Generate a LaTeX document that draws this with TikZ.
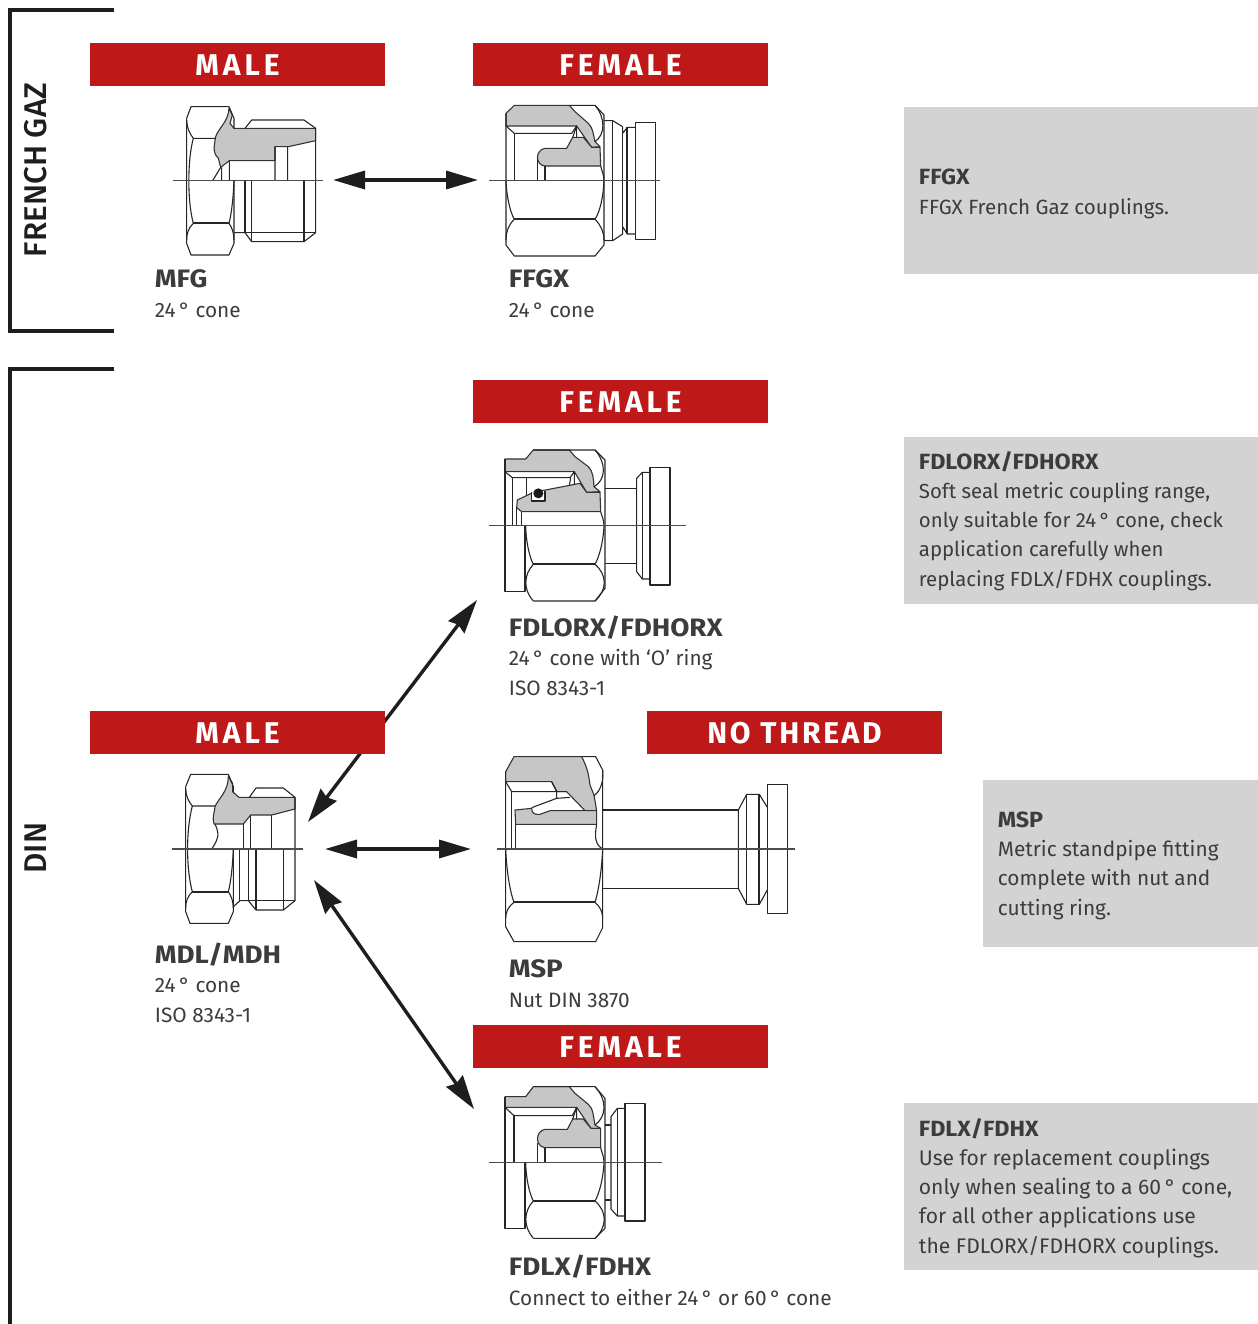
\documentclass[tikz,border=0pt]{standalone}
\usepackage{fontspec}
\usetikzlibrary{arrows.meta}
\setmainfont{Fira Sans}
\newfontfamily\barfont[LetterSpace=13]{Fira Sans}
\newfontfamily\wideA[FakeStretch=1.06]{Fira Sans}
\newfontfamily\wideB[FakeStretch=1.1]{Fira Sans}
\newfontfamily\sidefont{Fira Sans Medium}
\definecolor{barred}{RGB}{190,25,24}
\definecolor{boxgrey}{RGB}{211,211,211}
\definecolor{ink}{RGB}{60,60,60}
\definecolor{dark}{RGB}{30,30,28}
\definecolor{cutgrey}{RGB}{198,198,198}
\tikzset{
  bar/.style={fill=barred,draw=none,text=white,minimum width=147.5pt,minimum height=21.5pt,inner sep=0pt,font=\barfont\bfseries\fontsize{15}{16}\selectfont},
  infobox/.style={fill=boxgrey,draw=none},
  infotext/.style={anchor=base west,inner sep=0pt,align=left,text=ink,font=\fontsize{#1}{14.6}\selectfont},
  parttext/.style={anchor=base west,inner sep=0pt,align=left,text=ink,font=\fontsize{10.4}{14.6}\selectfont},
  side/.style={rotate=90,inner sep=0pt,text=dark,font=\sidefont\fontsize{15.7}{18}\selectfont},
  bracket/.style={draw=dark,line width=1.8pt},
  dbl/.style={draw=dark,line width=1.7pt,{Triangle[length=16pt,width=9pt]}-{Triangle[length=16pt,width=9pt]}},
  dbld/.style={draw=dark,line width=1.7pt,{Stealth[length=17pt,width=10pt,inset=1.5pt]}-{Stealth[length=17pt,width=10pt,inset=1.5pt]}},
  ln/.style={draw=black!85,line width=.55pt,line join=round},
  hv/.style={draw=black!85,line width=1pt},
  cl/.style={draw=black!70,line width=.55pt},
  cut/.style={fill=cutgrey,draw=black!80,line width=.55pt,line join=round},
  zoomed/.style={xscale=1/3,yscale=1/3}
}
\newcommand{\titlefont}{\wideB\bfseries\fontsize{12.6}{14.6}\selectfont}
\newcommand{\boxtitle}{\wideA\bfseries\fontsize{11}{14.6}\selectfont}
\newcommand{\barlabel}[1]{\raisebox{-.5pt}[10pt][0pt]{#1}}
\begin{document}
\begin{tikzpicture}[x=.5pt,y=-.5pt]
\useasboundingbox (0,0) rectangle (1258,1324);
% brackets
\coordinate (b1a) at (114,10); \coordinate (b1b) at (10,10); \coordinate (b1c) at (10,331); \coordinate (b1d) at (114,331);
\draw[bracket] (b1a) -- (b1b) -- (b1c) -- (b1d);
\coordinate (b2a) at (114,369); \coordinate (b2b) at (10,369); \coordinate (b2c) at (10,1324);
\draw[bracket] (b2a) -- (b2b) -- (b2c);
\node[side] (french) at (36,170) {FRENCH GAZ};
\node[side] (din) at (36,848) {DIN};
% arrows
\coordinate (a1l) at (333,180); \coordinate (a1r) at (478,180);
\coordinate (a2l) at (325,849); \coordinate (a2r) at (471,849);
\coordinate (a3a) at (308,822); \coordinate (a3b) at (477,600);
\coordinate (a4a) at (314,880); \coordinate (a4b) at (474,1109);
\draw[dbl] (a1l) -- (a1r);
\draw[dbl] (a2l) -- (a2r);
\draw[dbld] (a3a) -- (a3b);
\draw[dbld] (a4a) -- (a4b);
% bars
\node[bar] (m1) at (237.5,64.5) {\barlabel{MALE}};
\node[bar] (f1) at (620.5,64.5) {\barlabel{FEMALE}};
\node[bar] (f2) at (620.5,401.5) {\barlabel{FEMALE}};
\node[bar] (m2) at (237.5,732.5) {\barlabel{MALE}};
\node[bar] (nt) at (794.5,732.5) {\barlabel{\addfontfeature{LetterSpace=9}NO THREAD}};
\node[bar] (f3) at (620.5,1046.5) {\barlabel{FEMALE}};
% info boxes
\fill[infobox] (904,107) rectangle (1258,274);
\fill[infobox] (904,437) rectangle (1258,604);
\fill[infobox] (983,780) rectangle (1258,947);
\fill[infobox] (904,1103) rectangle (1258,1270);
\node[infotext=10.3] (t1) at (918.5,214) {{\boxtitle FFGX}\\FFGX French Gaz couplings.};
\node[infotext=10.2] (t2) at (918.5,586) {{\boxtitle FDLORX/FDHORX}\\Soft seal metric coupling range,\\only suitable for 24\,° cone, check\\application carefully when\\replacing FDLX/FDHX couplings.};
\node[infotext=10.4] (t3) at (997.5,915) {{\boxtitle MSP}\\Metric standpipe fitting\\complete with nut and\\cutting ring.};
\node[infotext=10.55] (t4) at (918.5,1253) {{\boxtitle FDLX/FDHX}\\Use for replacement couplings\\only when sealing to a 60\,° cone,\\for all other applications use\\the FDLORX/FDHORX couplings.};
% part labels
\node[parttext] (p1) at (154.5,317) {{\titlefont MFG}\\24\,° cone};
\node[parttext] (p2) at (508.5,317) {{\titlefont FFGX}\\24\,° cone};
\node[parttext] (p3) at (508.5,695) {{\titlefont FDLORX/FDHORX}\\24\,° cone with ‘O’ ring\\ISO 8343-1};
\node[parttext] (p4) at (154.5,1022) {{\titlefont MDL/MDH}\\24\,° cone\\ISO 8343-1};
\node[parttext] (p5) at (508.5,1007) {{\titlefont MSP}\\Nut DIN 3870};
\node[parttext] (p6) at (508.5,1305) {{\titlefont FDLX/FDHX}\\Connect to either 24\,° or 60\,° cone};
% MFG
\begin{scope}[shift={(150,90)},zoomed]
\draw[cut] (237,55) -- (247,75) -- (240,100) -- (252,115) -- (497,115) -- (497,152) -- (415,170) -- (375,170) -- (375,212) -- (238,212) -- (212,232) -- (205,205) .. controls (190,190) and (190,180) .. (197,140) .. controls (205,115) and (235,95) .. (237,55) -- cycle;
\draw[ln] (110,85) -- (123,50) -- (237,50) -- (252,85) -- (252,115);
\draw[ln] (110,85) -- (110,460) -- (123,495) -- (237,495) -- (252,460) -- (252,272);
\draw[ln] (110,90) .. controls (110,110) and (118,130) .. (130,145) -- (197,145);
\draw[ln] (130,145) .. controls (112,210) and (112,335) .. (130,400) .. controls (115,415) and (110,430) .. (110,450);
\draw[hv] (130,400) -- (237,400);
\draw[ln] (252,272) .. controls (250,320) and (245,370) .. (237,400) .. controls (246,412) and (252,430) .. (252,450);
\draw[ln] (285,115) -- (305,90) -- (462,90) -- (497,115) -- (497,428) -- (462,455) -- (305,455) -- (285,428) -- (252,428);
\draw[ln] (285,428) -- (497,428);
\draw[ln] (285,272) -- (285,428) (305,272) -- (305,455) (462,272) -- (462,455);
\draw[ln] (375,170) -- (375,272) (413,170) -- (413,272) (238,212) -- (238,272) (215,232) -- (215,272) (212,232) -- (188,272);
\draw[cl] (70,272) -- (520,272);
\end{scope}
% FFGX
\begin{scope}[shift={(480,90)},zoomed]
\draw[cut] (78,70) -- (103,46) -- (268,46) -- (285,65) -- (325,100) .. controls (340,115) and (340,135) .. (345,155) -- (360,170) -- (335,172) -- (290,108) -- (78,108) -- cycle;
\draw[cut] (278,142) -- (310,142) -- (335,172) -- (360,172) -- (362,228) -- (195,228) .. controls (165,225) and (165,180) .. (195,175) -- (260,175) -- cycle;
\draw[ln] (78,70) -- (78,465) -- (103,498) -- (345,498) -- (372,465) -- (372,75) -- (345,46) -- (268,46);
\draw[ln] (345,155) .. controls (375,135) and (378,85) .. (345,46);
\draw[ln] (78,108) -- (103,130) -- (275,130) -- (290,108) -- (290,142);
\draw[ln] (278,142) -- (290,108);
\draw[ln] (103,130) -- (103,272) (172,208) -- (172,272) (195,228) -- (195,272);
\draw[ln] (362,228) .. controls (366,245) and (372,255) .. (372,272);
\draw[ln] (78,272) .. controls (80,320) and (90,365) .. (103,388) .. controls (85,405) and (78,425) .. (78,450);
\draw[hv] (103,388) -- (345,388);
\draw[ln] (372,272) .. controls (370,320) and (360,365) .. (345,388) .. controls (362,405) and (372,425) .. (372,450);
\draw[ln] (372,92) -- (398,92) -- (428,110) -- (428,130) -- (442,112) -- (466,112);
\draw[ln] (372,452) -- (398,452) -- (428,432) -- (428,410) -- (442,432) -- (466,432);
\draw[ln] (398,92) -- (398,452) (428,130) -- (428,410);
\draw[hv] (442,112) -- (442,432);
\draw[ln] (466,97) rectangle (526,448);
\draw[cl] (28,272) -- (540,272);
\end{scope}
% FDLORX
\begin{scope}[shift={(480,435)},zoomed]
\draw[cut] (75,72) -- (137,72) -- (160,45) -- (268,45) -- (285,65) -- (325,95) .. controls (340,110) and (340,130) .. (342,155) -- (360,170) -- (320,172) -- (283,110) -- (75,110) -- cycle;
\draw[cut] (300,145) -- (320,172) -- (360,172) -- (362,230) -- (125,230) -- (110,218) -- (112,195) -- (160,172) -- cycle;
\draw[ln,fill=white] (155,172) -- (155,198) -- (195,198) -- (195,168);
\fill[black!90] (175,175) circle[radius=15];
\draw[ln] (75,72) -- (75,470) -- (135,470) -- (135,272);
\draw[ln] (160,45) -- (345,45) -- (375,75) -- (375,460) -- (345,498) -- (160,498);
\draw[ln] (342,155) .. controls (378,135) and (380,85) .. (345,45);
\draw[ln] (75,110) -- (97,128) -- (270,128) -- (283,110) -- (283,148);
\draw[ln] (272,128) -- (268,152);
\draw[ln] (97,128) -- (97,272) (110,218) -- (110,272) (125,230) -- (125,272) (140,128) -- (140,180);
\draw[ln] (362,230) .. controls (366,245) and (372,255) .. (372,272);
\draw[ln] (137,272) .. controls (138,320) and (148,365) .. (160,388);
\draw[hv] (160,388) -- (345,388);
\draw[ln] (372,272) .. controls (370,320) and (358,365) .. (345,388);
\draw[ln] (160,388) .. controls (130,420) and (130,465) .. (160,498);
\draw[ln] (345,388) .. controls (382,420) and (382,465) .. (345,498);
\draw[ln] (375,160) -- (470,160) (375,385) -- (470,385);
\draw[ln] (510,112) -- (487,112) -- (470,130) -- (470,410) -- (487,432) -- (510,432);
\draw[ln] (487,112) -- (487,432);
\draw[hv] (510,112) -- (510,432);
\draw[ln] (510,97) rectangle (570,450);
\draw[cl] (28,272) -- (618,272);
\end{scope}
% MDL
\begin{scope}[shift={(160,760)},zoomed]
\draw[cut] (205,50) -- (218,70) -- (218,95) -- (237,112) -- (405,112) -- (405,147) -- (335,165) -- (272,165) -- (250,192) -- (162,192) .. controls (155,175) and (165,150) .. (165,140) .. controls (175,115) and (205,95) .. (205,50) -- cycle;
\draw[ln] (77,80) -- (92,43) -- (205,43) -- (220,80) -- (220,100);
\draw[ln] (77,80) -- (77,455) -- (90,490) -- (205,490) -- (220,455) -- (220,267);
\draw[ln] (77,85) .. controls (77,105) and (85,125) .. (97,138) -- (165,138);
\draw[ln] (97,138) .. controls (78,210) and (78,325) .. (97,395) .. controls (82,410) and (77,425) .. (77,445);
\draw[hv] (97,395) -- (205,395);
\draw[ln] (220,267) .. controls (218,315) and (213,365) .. (205,395) .. controls (214,408) and (220,425) .. (220,445);
\draw[ln] (250,192) -- (250,267) (272,165) -- (272,267) (335,165) -- (335,267);
\draw[ln] (165,192) .. controls (172,210) and (185,225) .. (155,267);
\draw[ln] (268,112) -- (288,84) -- (370,84) -- (405,112) -- (405,422) -- (370,450) -- (288,450) -- (265,422) -- (240,422) -- (220,440);
\draw[ln] (265,422) -- (405,422);
\draw[ln] (238,267) -- (238,422) (265,267) -- (265,422) (288,267) -- (288,450) (370,267) -- (370,450);
\draw[cl] (35,267) -- (428,267);
\end{scope}
% MSP
\begin{scope}[shift={(490,745)},zoomed]
\draw[cut] (47,80) -- (72,35) -- (275,35) .. controls (290,65) and (295,80) .. (300,120) -- (312,150) -- (320,197) -- (285,197) -- (230,140) -- (200,140) -- (185,110) -- (47,110) -- cycle;
\draw[cut] (75,195) -- (125,190) .. controls (125,205) and (135,210) .. (150,208) -- (180,197) -- (320,197) -- (320,238) -- (77,238) -- cycle;
\draw[ln] (47,80) -- (47,545) -- (72,590) -- (317,590) -- (338,548) -- (338,75) -- (317,35) -- (275,35);
\draw[ln] (47,110) -- (65,140) -- (230,140);
\draw[ln] (65,140) -- (65,312) (77,238) -- (77,312);
\draw[ln] (185,110) -- (200,138) -- (200,160) -- (125,188);
\draw[ln] (200,160) -- (240,157);
\draw[ln] (320,238) .. controls (312,280) and (318,300) .. (338,312);
\draw[ln] (338,75) .. controls (342,110) and (330,140) .. (312,152);
\draw[ln] (47,312) .. controls (50,380) and (60,440) .. (72,472);
\draw[hv] (72,472) -- (315,472);
\draw[ln] (338,312) .. controls (335,380) and (325,440) .. (315,472);
\draw[ln] (72,472) .. controls (55,485) and (47,500) .. (47,520);
\draw[ln] (315,472) .. controls (330,485) and (338,500) .. (338,520);
\draw[ln] (338,195) -- (745,195) (338,430) -- (745,430);
\draw[ln] (832,187) -- (808,148) -- (770,148) -- (745,195) -- (745,430) -- (770,478) -- (808,478) -- (832,435);
\draw[ln] (770,148) -- (770,478);
\draw[hv] (808,148) -- (808,478);
\draw[ln] (832,118) rectangle (892,506);
\draw[cl] (22,312) -- (915,312);
\end{scope}
% FDLX
\begin{scope}[shift={(480,1075)},zoomed]
\draw[cut] (75,65) -- (137,65) -- (160,35) -- (268,35) -- (285,55) -- (325,88) .. controls (340,100) and (340,125) .. (345,150) -- (362,160) -- (333,160) -- (290,97) -- (75,97) -- cycle;
\draw[cut] (278,132) -- (310,132) -- (333,160) -- (362,160) -- (362,218) -- (195,218) .. controls (165,215) and (165,168) .. (195,163) -- (262,163) -- cycle;
\draw[ln] (75,65) -- (75,460) -- (135,460) -- (135,262);
\draw[ln] (160,35) -- (345,35) -- (375,70) -- (375,460) -- (345,490) -- (160,490);
\draw[ln] (345,150) .. controls (380,125) and (382,75) .. (345,35);
\draw[ln] (75,97) -- (102,122) -- (277,122) -- (290,97) -- (290,132);
\draw[ln] (278,132) -- (290,97);
\draw[ln] (102,122) -- (102,262) (173,205) -- (173,262) (195,218) -- (195,262);
\draw[ln] (362,218) .. controls (366,235) and (372,245) .. (372,262);
\draw[ln] (137,262) .. controls (138,310) and (148,355) .. (160,378);
\draw[hv] (160,378) -- (345,378);
\draw[ln] (372,262) .. controls (370,310) and (358,355) .. (345,378);
\draw[ln] (160,378) .. controls (130,410) and (130,455) .. (160,490);
\draw[ln] (345,378) .. controls (382,410) and (382,455) .. (345,490);
\draw[ln] (375,150) -- (393,150) (375,375) -- (393,375);
\draw[ln] (435,100) -- (412,100) -- (393,125) -- (393,402) -- (412,423) -- (435,423);
\draw[ln] (412,100) -- (412,423);
\draw[hv] (435,100) -- (435,423);
\draw[ln] (435,85) rectangle (495,438);
\draw[cl] (28,262) -- (545,262);
\end{scope}
\end{tikzpicture}
\end{document}
